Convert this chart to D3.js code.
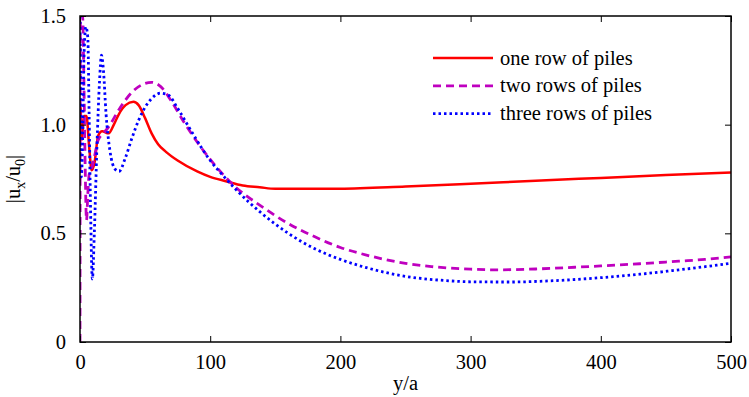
<!DOCTYPE html>
<html>
<head>
<meta charset="utf-8">
<script src="https://cdn.jsdelivr.net/npm/d3@7"></script>
<style>
  body { margin: 0; background: #fff; }
  svg { display: block; }
</style>
</head>
<body>
<div id="chart"></div>
<script>
// values: [y/a, |ux/u0|]
const oneRow = [
  [0.5, 1.08], [1.5, 0.93], [3, 1.04], [5, 1.04], [7, 0.9], [9, 0.79], [11, 0.82],
  [14, 0.95], [17, 0.97], [22, 0.96], [26, 1.0], [30, 1.05], [35, 1.09], [41, 1.105],
  [45, 1.09], [50, 1.03], [55, 0.96], [60, 0.91], [66, 0.875], [75, 0.835], [90, 0.785],
  [100, 0.76], [112, 0.74], [125, 0.72], [138, 0.712], [150, 0.705], [200, 0.705],
  [250, 0.715], [300, 0.728], [350, 0.742], [400, 0.755], [450, 0.768], [500, 0.78]
];
const twoRows = [
  [0, 0], [0.3, 1.5], [2, 1.5], [3, 1.2], [4, 0.8], [5, 0.56], [6, 0.68], [7, 0.77],
  [9, 0.8], [11, 0.85], [14, 0.93], [18, 0.96], [22, 0.99], [30, 1.07], [40, 1.15],
  [48, 1.185], [55, 1.195], [62, 1.175], [70, 1.11], [80, 1.01], [90, 0.92], [100, 0.84],
  [110, 0.77], [120, 0.71], [138, 0.63], [160, 0.545], [180, 0.485], [200, 0.435],
  [220, 0.4], [250, 0.362], [270, 0.347], [300, 0.335], [320, 0.332], [350, 0.336],
  [380, 0.344], [400, 0.35], [430, 0.36], [460, 0.372], [480, 0.38], [500, 0.392]
];
const threeRows = [
  [0, 1.5], [0.5, 1.2], [1, 0.76], [2, 0.92], [3, 1.3], [4.5, 1.45], [6, 1.4], [7, 1.05],
  [8, 0.65], [9.5, 0.29], [11, 0.5], [13, 0.9], [15, 1.2], [16.5, 1.32], [18, 1.25],
  [20, 1.05], [23, 0.88], [27, 0.795], [30, 0.785], [35, 0.85], [40, 0.94], [45, 1.02],
  [50, 1.08], [55, 1.12], [62, 1.145], [68, 1.135], [75, 1.075], [85, 0.975], [100, 0.835],
  [110, 0.765], [120, 0.7], [138, 0.6], [160, 0.5], [180, 0.43], [200, 0.38], [220, 0.342],
  [250, 0.302], [280, 0.283], [300, 0.277], [330, 0.276], [360, 0.281], [400, 0.296],
  [430, 0.312], [460, 0.332], [500, 0.362]
];

const xTicks = [0, 100, 200, 300, 400, 500];
const yTicks = [0, 0.5, 1.0, 1.5];
const yTickLabels = ['0', '0.5', '1.0', '1.5'];

const series = [
  { name: 'one row of piles', values: oneRow, color: '#ff0000', dash: null, width: 2.5 },
  { name: 'two rows of piles', values: twoRows, color: '#bf00bf', dash: '8,5', width: 2.8 },
  { name: 'three rows of piles', values: threeRows, color: '#0000ff', dash: '2.5,3', width: 2.8 }
];

const FONT = '"Liberation Serif"';
const FS = 20.5;
const width = 749, height = 397;
const margin = { top: 16, right: 18, bottom: 55, left: 80 };

const svg = d3.select('#chart').append('svg')
  .attr('width', width)
  .attr('height', height);

const x = d3.scaleLinear().domain([0, 500]).range([margin.left, width - margin.right]);
const y = d3.scaleLinear().domain([0, 1.5]).range([height - margin.bottom, margin.top]);

// clip so lines stay inside the box
svg.append('clipPath').attr('id', 'clip')
  .append('rect')
  .attr('x', margin.left).attr('y', margin.top)
  .attr('width', x.range()[1] - margin.left)
  .attr('height', y.range()[0] - margin.top);

const line = d3.line()
  .x(d => x(d[0]))
  .y(d => y(d[1]))
  .curve(d3.curveMonotoneX);

const lines = svg.append('g').attr('clip-path', 'url(#clip)');
lines.selectAll('path')
  .data(series)
  .enter()
  .append('path')
  .attr('d', d => line(d.values))
  .attr('fill', 'none')
  .attr('stroke', d => d.color)
  .attr('stroke-width', d => d.width)
  .attr('stroke-dasharray', d => d.dash)
  .attr('stroke-linejoin', 'round');

// axes, ticks pointing inward on all four sides
const fmtY = d => yTickLabels[yTicks.indexOf(d)];
const axisStyle = (g) => {
  g.select('.domain').remove();
  g.selectAll('.tick line').attr('stroke', '#000').attr('stroke-width', 1);
  g.selectAll('.tick text')
    .attr('fill', '#000')
    .style('font-family', FONT)
    .style('font-size', FS + 'px');
};

svg.append('g')
  .attr('transform', `translate(0,${y(0)})`)
  .call(d3.axisBottom(x).tickValues(xTicks).tickSizeInner(-6).tickSizeOuter(0).tickPadding(12))
  .call(axisStyle);

svg.append('g')
  .attr('transform', `translate(0,${y(1.5)})`)
  .call(d3.axisTop(x).tickValues(xTicks).tickSizeInner(-6).tickSizeOuter(0).tickFormat(''))
  .call(axisStyle);

svg.append('g')
  .attr('transform', `translate(${x(0)},0)`)
  .call(d3.axisLeft(y).tickValues(yTicks).tickFormat(fmtY).tickSizeInner(-6).tickSizeOuter(0).tickPadding(14))
  .call(axisStyle);

svg.append('g')
  .attr('transform', `translate(${x(500)},0)`)
  .call(d3.axisRight(y).tickValues(yTicks).tickSizeInner(-6).tickSizeOuter(0).tickFormat(''))
  .call(axisStyle);

// frame
svg.append('rect')
  .attr('x', x(0)).attr('y', y(1.5))
  .attr('width', x(500) - x(0))
  .attr('height', y(0) - y(1.5))
  .attr('fill', 'none')
  .attr('stroke', '#000')
  .attr('stroke-width', 1.5);

// axis labels
svg.append('text')
  .attr('x', (x(0) + x(500)) / 2)
  .attr('y', 390)
  .attr('text-anchor', 'middle')
  .style('font-family', FONT)
  .style('font-size', FS + 'px')
  .text('y/a');

const yl = svg.append('text')
  .attr('transform', `translate(20,${(y(0) + y(1.5)) / 2}) rotate(-90)`)
  .attr('text-anchor', 'middle')
  .style('font-family', FONT)
  .style('font-size', FS + 'px');
yl.append('tspan').text('|u');
yl.append('tspan').style('font-size', '14px').attr('dy', 5).text('x');
yl.append('tspan').attr('dy', -5).text('/u');
yl.append('tspan').style('font-size', '14px').attr('dy', 5).text('0');
yl.append('tspan').attr('dy', -5).text('|');

// legend
const legend = svg.append('g').attr('transform', 'translate(433,58)');
const item = legend.selectAll('g')
  .data(series)
  .enter()
  .append('g')
  .attr('transform', (d, i) => `translate(0,${i * 27.8})`);
item.append('line')
  .attr('x1', 0).attr('x2', 60)
  .attr('stroke', d => d.color)
  .attr('stroke-width', d => d.width)
  .attr('stroke-dasharray', d => d.dash);
item.append('text')
  .attr('x', 67)
  .attr('dy', '0.32em')
  .style('font-family', FONT)
  .style('font-size', FS + 'px')
  .text(d => d.name);
</script>
</body>
</html>
